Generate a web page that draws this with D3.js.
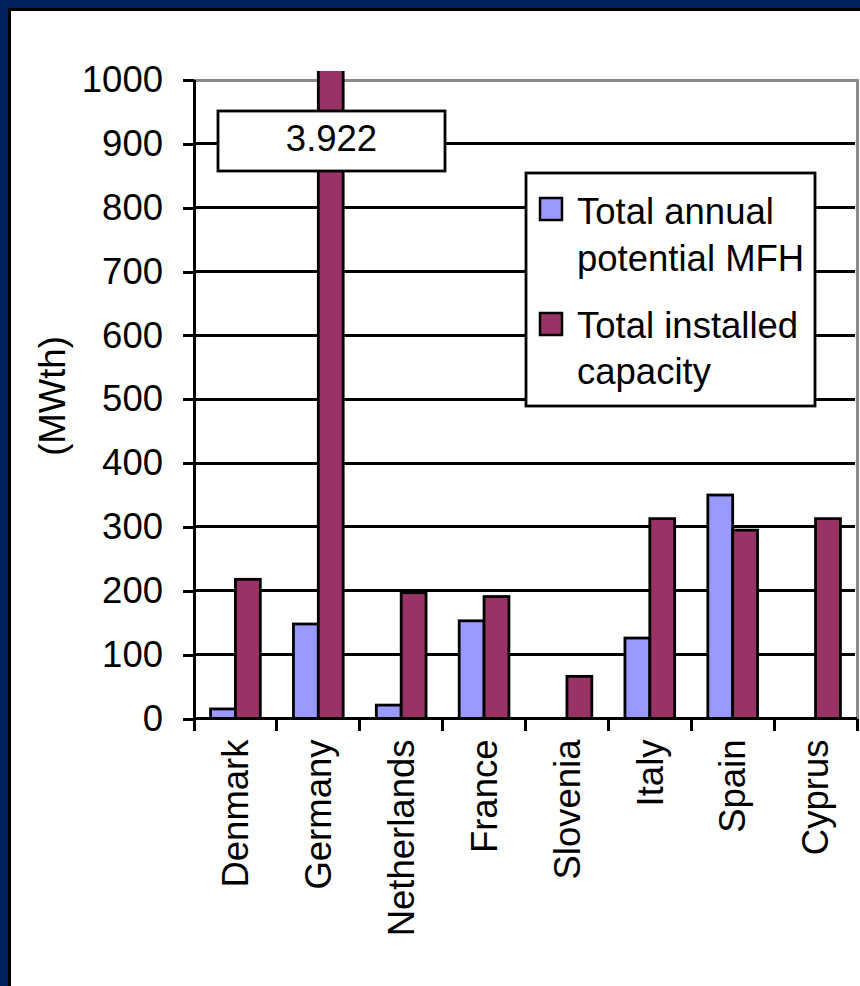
<!DOCTYPE html>
<html>
<head>
<meta charset="utf-8">
<script src="https://cdn.jsdelivr.net/npm/d3@7"></script>
<style>
  html, body { margin: 0; padding: 0; background: #ffffff; }
  svg { display: block; }
  text { font-family: "Liberation Sans", Arial, sans-serif; fill: #000; }
</style>
</head>
<body>
<script>
// Solar thermal in multi-family houses, by country (MWth)
const categories = ["Denmark", "Germany", "Netherlands", "France", "Slovenia", "Italy", "Spain", "Cyprus"];
const potentialMFH = [15, 148, 21, 153, 0, 126, 350, 0];
const installedCapacity = [218, 3922, 197, 191, 66, 313, 295, 313];
const yTicks = [0, 100, 200, 300, 400, 500, 600, 700, 800, 900, 1000];
const seriesLabels = [["Total annual", "potential MFH"], ["Total installed", "capacity"]];
const axisTitle = "(MWth)";

const W = 860, H = 986;
const colors = ["#9999FF", "#993366"];
const fontSize = 36.5;

const svg = d3.select("body").append("svg").attr("width", W).attr("height", H);

// Slide frame: navy band with a thin black edge
svg.append("rect").attr("x", 0).attr("y", 0).attr("width", W).attr("height", H).attr("fill", "#00205f");
svg.append("rect").attr("x", 8).attr("y", 8).attr("width", W).attr("height", H).attr("fill", "#000");
svg.append("rect").attr("x", 11).attr("y", 11).attr("width", W).attr("height", H).attr("fill", "#fff");

const plot = { left: 194, right: 857, top: 80, bottom: 718.5 };

const x = d3.scaleBand().domain(categories).range([plot.left, plot.right]).padding(0);
const barW = x.bandwidth() * 0.3;
const sub = d3.scaleBand().domain([0, 1]).range([-barW, barW]);
const y = d3.scaleLinear().domain([0, 1000]).range([plot.bottom, plot.top]);

// Horizontal gridlines
svg.append("g").selectAll("line")
  .data(yTicks.filter(v => v > 0 && v < 1000))
  .join("line")
  .attr("x1", plot.left).attr("x2", plot.right - 2)
  .attr("y1", d => y(d)).attr("y2", d => y(d))
  .attr("stroke", "#000").attr("stroke-width", 3)
  .attr("shape-rendering", "crispEdges");

// Plot area border (top and right)
svg.append("path")
  .attr("d", `M${plot.left},${plot.top}H${plot.right}V${plot.bottom}`)
  .attr("fill", "none").attr("stroke", "#8a8a8a").attr("stroke-width", 3)
  .attr("shape-rendering", "crispEdges");

// Bars, clipped a little above the top of the value axis
svg.append("clipPath").attr("id", "barclip")
  .append("rect").attr("x", plot.left).attr("y", plot.top - 9)
  .attr("width", plot.right - plot.left).attr("height", plot.bottom - plot.top + 9);

const rows = categories.map((c, i) => ({ c, vals: [potentialMFH[i], installedCapacity[i]] }));
const bars = svg.append("g").attr("clip-path", "url(#barclip)");
rows.forEach(r => {
  r.vals.forEach((v, s) => {
    if (v <= 0) return;
    const cx = x(r.c) + x.bandwidth() / 2;
    bars.append("rect")
      .attr("x", cx + sub(s))
      .attr("y", y(v))
      .attr("width", sub.bandwidth())
      .attr("height", y(0) - y(v))
      .attr("fill", colors[s])
      .attr("stroke", "#000").attr("stroke-width", 2.8);
  });
});

// Value axis
const yAxis = d3.axisLeft(y).tickValues(yTicks).tickSize(11).tickPadding(20).tickFormat(d3.format("d"));
const gy = svg.append("g").attr("transform", `translate(${plot.left},0)`).call(yAxis);
gy.select(".domain").remove();
gy.selectAll(".tick line").attr("stroke", "#000").attr("stroke-width", 3).attr("shape-rendering", "crispEdges");
gy.selectAll(".tick text").attr("font-size", fontSize).attr("font-family", "Liberation Sans, Arial, sans-serif").attr("fill", "#000");
svg.append("line").attr("x1", plot.left).attr("x2", plot.left)
  .attr("y1", plot.top).attr("y2", plot.bottom)
  .attr("stroke", "#000").attr("stroke-width", 3).attr("shape-rendering", "crispEdges");

// Category axis with ticks between groups
const boundaries = categories.map(c => x(c)).concat([plot.right]);
svg.append("line").attr("x1", plot.left).attr("x2", plot.right)
  .attr("y1", plot.bottom).attr("y2", plot.bottom)
  .attr("stroke", "#000").attr("stroke-width", 3).attr("shape-rendering", "crispEdges");
svg.append("g").selectAll("line").data(boundaries).join("line")
  .attr("x1", d => d).attr("x2", d => d)
  .attr("y1", plot.bottom).attr("y2", plot.bottom + 12)
  .attr("stroke", "#000").attr("stroke-width", 3).attr("shape-rendering", "crispEdges");

svg.append("g").selectAll("text").data(categories).join("text")
  .attr("transform", d => `translate(${x(d) + x.bandwidth() / 2},${plot.bottom + 21}) rotate(-90)`)
  .attr("text-anchor", "end")
  .attr("dy", "0.35em")
  .attr("font-size", fontSize)
  .text(d => d);

// Axis title
svg.append("text")
  .attr("transform", `translate(52,396) rotate(-90)`)
  .attr("text-anchor", "middle")
  .attr("dy", "0.35em")
  .attr("font-size", fontSize)
  .text(axisTitle);

// Callout for the off-scale Germany value
const fmt = d3.formatLocale({ decimal: ",", thousands: ".", grouping: [3], currency: ["", "€"] }).format(",");
const callout = svg.append("g");
callout.append("rect").attr("x", 218).attr("y", 111).attr("width", 227).attr("height", 60)
  .attr("fill", "#fff").attr("stroke", "#000").attr("stroke-width", 2.8);
callout.append("text").attr("x", 331.5).attr("y", 151).attr("text-anchor", "middle")
  .attr("font-size", fontSize).text(fmt(installedCapacity[categories.indexOf("Germany")]));

// Legend
const lg = svg.append("g");
lg.append("rect").attr("x", 526).attr("y", 173).attr("width", 289).attr("height", 233)
  .attr("fill", "#fff").attr("stroke", "#000").attr("stroke-width", 2.8);
const legendRows = [{ sq: 198, lines: [224, 271] }, { sq: 313, lines: [338, 384] }];
legendRows.forEach((r, i) => {
  lg.append("rect").attr("x", 540).attr("y", r.sq).attr("width", 22).attr("height", 22)
    .attr("fill", colors[i]).attr("stroke", "#000").attr("stroke-width", 2.5);
  r.lines.forEach((ly, j) => {
    lg.append("text").attr("x", 577).attr("y", ly).attr("font-size", fontSize).text(seriesLabels[i][j]);
  });
});
</script>
</body>
</html>
